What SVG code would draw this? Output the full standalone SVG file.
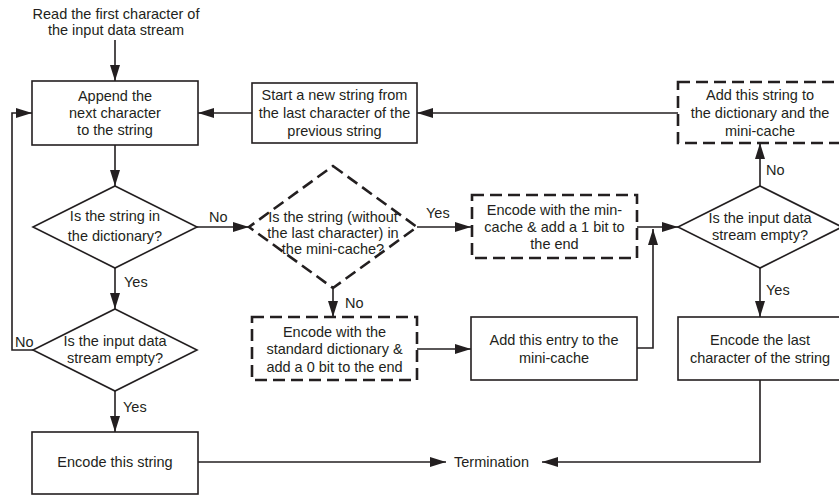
<svg xmlns="http://www.w3.org/2000/svg" width="839" height="495" viewBox="0 0 839 495">
  <style>
    text { font-family: "Liberation Sans", Arial, sans-serif; font-size: 14.5px; fill: #231f20; }
    .c { text-anchor: middle; }
    .box { fill: #fff; stroke: #231f20; stroke-width: 1.6; }
    .dash { fill: #fff; stroke: #231f20; stroke-width: 2.6; stroke-dasharray: 12 6; }
    .link { fill: none; stroke: #231f20; stroke-width: 1.6; }
    .arr { marker-end: url(#head); }
  </style>
  <defs>
    <marker id="head" markerUnits="userSpaceOnUse" markerWidth="16" markerHeight="10" refX="16" refY="5" orient="auto">
      <path d="M0,0 L16,5 L0,10 z" fill="#231f20"/>
    </marker>
  </defs>
  <rect width="839" height="495" fill="#fff"/>

  <!-- connectors -->
  <g id="connectors">
    <path class="link arr" d="M115,40 V81"/>
    <path class="link arr" d="M115,145 V186"/>
    <path class="link arr" d="M197,227 H249"/>
    <path class="link arr" d="M115,268 V309"/>
    <path class="link arr" d="M33,350 H12 V113 H32"/>
    <path class="link arr" d="M115,391 V432"/>
    <path class="link arr" d="M198,462 H446"/>
    <path class="link arr" d="M417,227 H471"/>
    <path class="link arr" d="M333,288 V317"/>
    <path class="link arr" d="M417,349 H471"/>
    <path class="link arr" d="M637,348 H653 V229"/>
    <path class="link arr" d="M637,227 H678"/>
    <path class="link arr" d="M760,186 V143"/>
    <path class="link arr" d="M760,268 V317"/>
    <path class="link arr" d="M678,113 H417"/>
    <path class="link arr" d="M252,113 H198"/>
    <path class="link arr" d="M760,380 V462 H542"/>
    <text x="209" y="222">No</text>
    <text x="124" y="287">Yes</text>
    <text x="15" y="347">No</text>
    <text x="123" y="412">Yes</text>
    <text x="426" y="218">Yes</text>
    <text x="345" y="308">No</text>
    <text x="766" y="175">No</text>
    <text x="766" y="295">Yes</text>
  </g>

  <g id="start">
    <text class="c" x="116" y="19">Read the first character of</text>
    <text class="c" x="116" y="35">the input data stream</text>
  </g>

  <g id="append">
    <rect class="box" x="32" y="81" width="166" height="64"/>
    <text class="c" x="115" y="101">Append the</text>
    <text class="c" x="115" y="118">next character</text>
    <text class="c" x="115" y="135">to the string</text>
  </g>

  <g id="new-string">
    <rect class="box" x="252" y="83" width="165" height="60"/>
    <text class="c" x="334.5" y="100">Start a new string from</text>
    <text class="c" x="334.5" y="118">the last character of the</text>
    <text class="c" x="334.5" y="136">previous string</text>
  </g>

  <g id="add-string">
    <rect class="dash" x="678" y="82" width="168" height="61"/>
    <text class="c" x="760" y="100">Add this string to</text>
    <text class="c" x="760" y="118">the dictionary and the</text>
    <text class="c" x="760" y="136">mini-cache</text>
  </g>

  <g id="in-dictionary">
    <polygon class="box" points="115,186 197,227 115,268 33,227"/>
    <text class="c" x="115" y="221">Is the string in</text>
    <text class="c" x="115" y="241">the dictionary?</text>
  </g>

  <g id="in-mini-cache">
    <polygon class="dash" points="333,166 417,227 333,288 249,227"/>
    <text class="c" x="333" y="222">Is the string (without</text>
    <text class="c" x="333" y="238">the last character) in</text>
    <text class="c" x="333" y="254">the mini-cache?</text>
  </g>

  <g id="encode-mini-cache">
    <rect class="dash" x="472" y="195" width="165" height="63"/>
    <text class="c" x="554.5" y="215">Encode with the min-</text>
    <text class="c" x="554.5" y="232">cache &amp; add a 1 bit to</text>
    <text class="c" x="554.5" y="249">the end</text>
  </g>

  <g id="stream-empty-right">
    <polygon class="box" points="760,186 842,227 760,268 678,227"/>
    <text class="c" x="760" y="223">Is the input data</text>
    <text class="c" x="760" y="240">stream empty?</text>
  </g>

  <g id="stream-empty-left">
    <polygon class="box" points="115,309 197,350 115,391 33,350"/>
    <text class="c" x="115" y="346">Is the input data</text>
    <text class="c" x="115" y="363">stream empty?</text>
  </g>

  <g id="encode-dictionary">
    <rect class="dash" x="252" y="317" width="165" height="63"/>
    <text class="c" x="334.5" y="337">Encode with the</text>
    <text class="c" x="334.5" y="354">standard dictionary &amp;</text>
    <text class="c" x="334.5" y="372">add a 0 bit to the end</text>
  </g>

  <g id="add-entry">
    <rect class="box" x="471" y="317" width="166" height="63"/>
    <text class="c" x="554" y="345">Add this entry to the</text>
    <text class="c" x="554" y="363">mini-cache</text>
  </g>

  <g id="encode-last">
    <rect class="box" x="678" y="317" width="168" height="63"/>
    <text class="c" x="760" y="345">Encode the last</text>
    <text class="c" x="760" y="363">character of the string</text>
  </g>

  <g id="encode-string">
    <rect class="box" x="32" y="432" width="166" height="62"/>
    <text class="c" x="115" y="467">Encode this string</text>
  </g>

  <g id="termination">
    <text x="454" y="467">Termination</text>
  </g>
</svg>
